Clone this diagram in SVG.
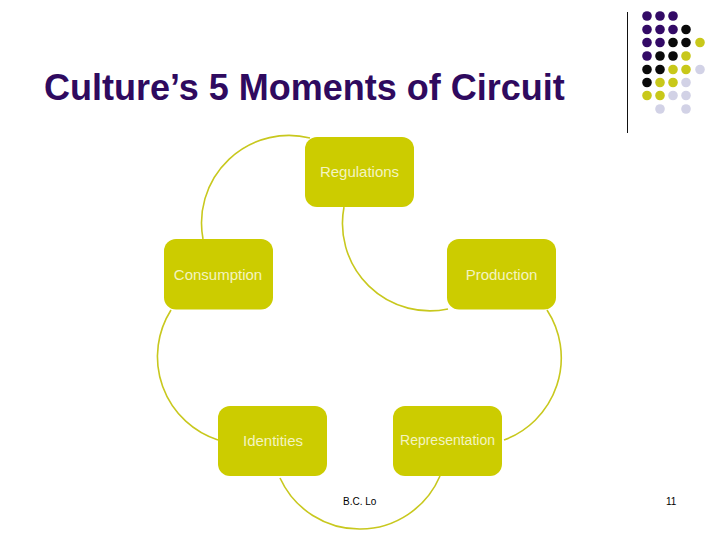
<svg xmlns="http://www.w3.org/2000/svg" width="720" height="540" viewBox="0 0 720 540">
<style>
text{font-family:"Liberation Sans",Arial,sans-serif}
.n{fill:#cccc00}
.l{fill:#f4f4c0;font-size:15px;text-anchor:middle}
.c{fill:none;stroke:#c8c81e;stroke-width:1.6}
.p{fill:#330a66}.k{fill:#0a0a0a}.y{fill:#c8c81a}.g{fill:#d2d2e6}
</style>
<rect width="720" height="540" fill="#ffffff"/>
<text x="44" y="100" font-size="36" font-weight="700" fill="#2f0a5f">Culture’s 5 Moments of Circuit</text>
<g id="decoration">
<line x1="627.5" y1="12" x2="627.5" y2="133" stroke="#111111" stroke-width="1"/>
<g class="p"><circle cx="647" cy="16" r="4.8"/><circle cx="660" cy="16" r="4.8"/><circle cx="673" cy="16" r="4.8"/><circle cx="647" cy="29.5" r="4.8"/><circle cx="660" cy="29.5" r="4.8"/><circle cx="673" cy="29.5" r="4.8"/><circle cx="647" cy="42.5" r="4.8"/><circle cx="660" cy="42.5" r="4.8"/><circle cx="647" cy="56" r="4.8"/></g>
<g class="k"><circle cx="686" cy="29.5" r="4.8"/><circle cx="673" cy="42.5" r="4.8"/><circle cx="686" cy="42.5" r="4.8"/><circle cx="660" cy="56" r="4.8"/><circle cx="673" cy="56" r="4.8"/><circle cx="647" cy="69.5" r="4.8"/><circle cx="660" cy="69.5" r="4.8"/><circle cx="647" cy="82.5" r="4.8"/></g>
<g class="y"><circle cx="700" cy="42.5" r="4.8"/><circle cx="686" cy="56" r="4.8"/><circle cx="673" cy="69.5" r="4.8"/><circle cx="686" cy="69.5" r="4.8"/><circle cx="660" cy="82.5" r="4.8"/><circle cx="673" cy="82.5" r="4.8"/><circle cx="647" cy="95.5" r="4.8"/><circle cx="660" cy="95.5" r="4.8"/></g>
<g class="g"><circle cx="700" cy="69.5" r="4.8"/><circle cx="686" cy="82.5" r="4.8"/><circle cx="673" cy="95.5" r="4.8"/><circle cx="686" cy="95.5" r="4.8"/><circle cx="660" cy="109" r="4.8"/><circle cx="686" cy="109" r="4.8"/></g>
</g>
<g id="connectors">
<path class="c" d="M203 239A87.5 87.5 0 0 1 310 138"/>
<path class="c" d="M344 207A87.5 87.5 0 0 0 448 309"/>
<path class="c" d="M171 310A87.5 87.5 0 0 0 218 440"/>
<path class="c" d="M547 310A87.5 87.5 0 0 1 504 440"/>
<path class="c" d="M280 478A87.5 87.5 0 0 0 440 476"/>
</g>
<g id="regulations"><rect class="n" x="305" y="137" width="109" height="70" rx="12"/><text class="l" x="359.500" y="177">Regulations</text></g>
<g id="consumption"><rect class="n" x="164" y="239" width="109" height="70.500" rx="12"/><text class="l" x="218" y="280">Consumption</text></g>
<g id="production"><rect class="n" x="447" y="239" width="109" height="70.500" rx="12"/><text class="l" x="501.500" y="280">Production</text></g>
<g id="identities"><rect class="n" x="218" y="406" width="109" height="70" rx="12"/><text class="l" x="273" y="446">Identities</text></g>
<g id="representation"><rect class="n" x="393" y="406" width="109" height="70" rx="12"/><text class="l" x="447.500" y="445" style="font-size:14px">Representation</text></g>
<text x="343" y="505" font-size="10" fill="#000000">B.C. Lo</text>
<text x="666" y="505" font-size="10" fill="#000000">11</text>
</svg>
